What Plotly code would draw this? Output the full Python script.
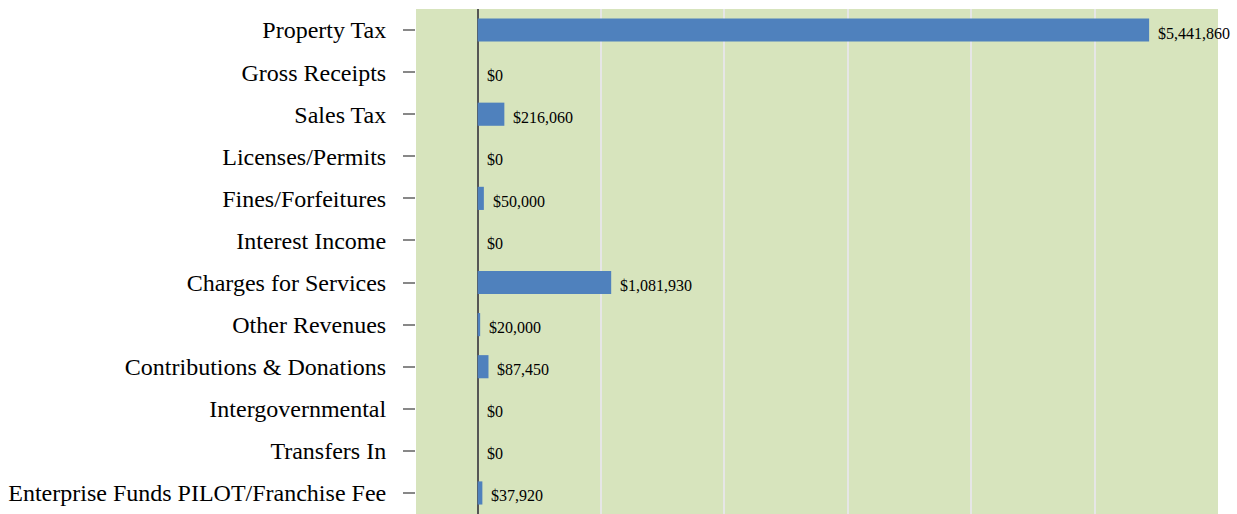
import plotly.graph_objects as go

categories = [
    "Property Tax",
    "Gross Receipts",
    "Sales Tax",
    "Licenses/Permits",
    "Fines/Forfeitures",
    "Interest Income",
    "Charges for Services",
    "Other Revenues",
    "Contributions & Donations",
    "Intergovernmental",
    "Transfers In",
    "Enterprise Funds PILOT/Franchise Fee",
]
amounts = [5441860, 0, 216060, 0, 50000, 0, 1081930, 20000, 87450, 0, 0, 37920]

bar_color = "#4F81BD"
serif = "Liberation Serif, Times New Roman, serif"

fig = go.Figure()
fig.add_trace(go.Bar(
    y=categories,
    x=amounts,
    orientation="h",
    marker=dict(color=bar_color, line=dict(width=0)),
    width=0.55,
    hoverinfo="skip",
))

# value labels just to the right of each bar end
for cat, val in zip(categories, amounts):
    fig.add_annotation(
        x=val, y=cat, text=f"${val:,.0f}",
        xanchor="left", yanchor="middle", showarrow=False,
        xshift=7, yshift=-3,
        font=dict(family=serif, size=16, color="#000000"),
    )

fig.update_layout(
    width=1237, height=514,
    margin=dict(l=416, r=19, t=9, b=0),
    paper_bgcolor="white",
    plot_bgcolor="#D7E4BD",
    showlegend=False,
)
fig.update_xaxes(
    range=[-500000, 6000000],
    dtick=1000000,
    showticklabels=False,
    showgrid=True, gridcolor="#E6E6E6", gridwidth=2,
    zeroline=True, zerolinecolor="#555555", zerolinewidth=2,
    showline=False,
)
fig.update_yaxes(
    autorange="reversed",
    ticks="outside", ticklen=12, tickcolor="#888888", tickwidth=2,
    ticklabelstandoff=12,
    tickfont=dict(family=serif, size=24, color="#000000"),
    showgrid=False, zeroline=False, showline=False,
)

fig.write_html("out.html")
